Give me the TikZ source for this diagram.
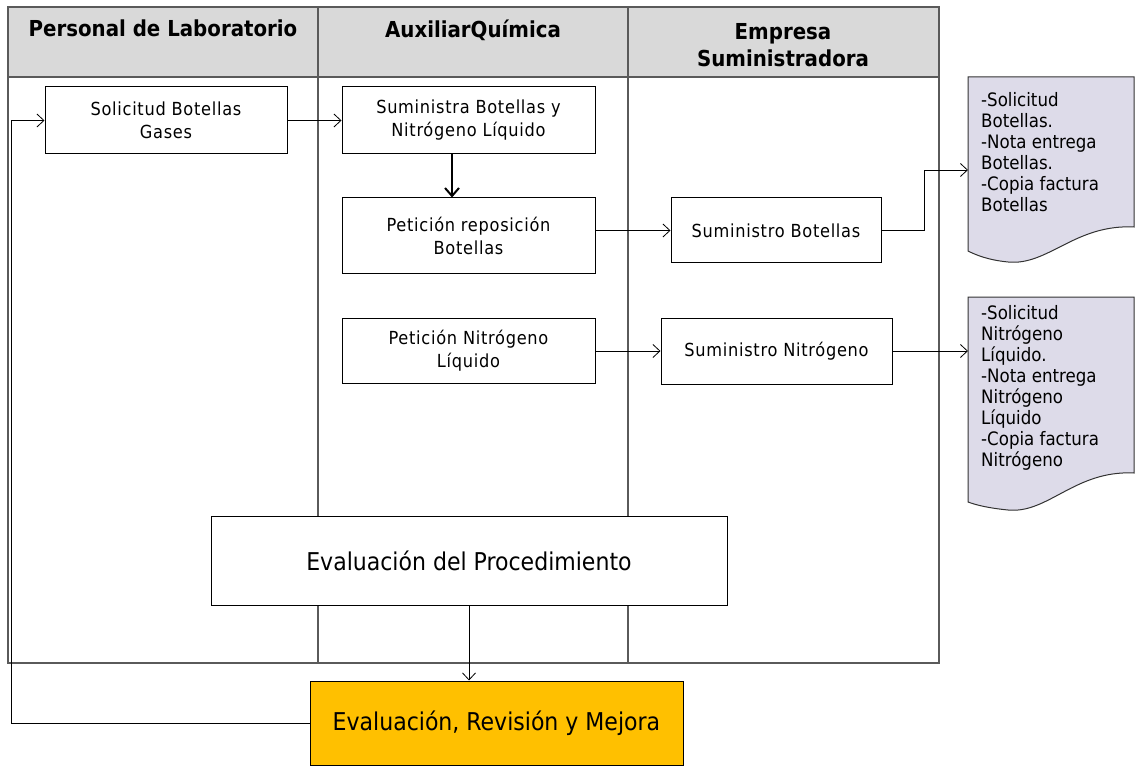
\documentclass[tikz,border=0pt]{standalone}
\usepackage{fontspec}
\setmainfont{DejaVu Sans Condensed}
\newfontfamily\boxfont[LetterSpace=4]{DejaVu Sans Condensed}
\newfontfamily\docfont{DejaVu Sans Condensed}
\usetikzlibrary{arrows.meta}
\definecolor{lanegray}{HTML}{5A5A5A}
\definecolor{hdrgray}{HTML}{D9D9D9}
\definecolor{docfill}{HTML}{DDDBE9}
\definecolor{gold}{HTML}{FFC000}
\begin{document}
\begin{tikzpicture}[x=1pt,y=-1pt,
  lane/.style={draw=lanegray, line width=1.4pt},
  proc/.style={draw=black, line width=1pt, fill=white, align=center, inner sep=0pt,
    font=\boxfont\fontsize{18}{23}\selectfont},
  bigproc/.style={draw=black, line width=1pt, align=center, inner sep=0pt,
    font=\fontsize{24.5}{28}\selectfont},
  hdr/.style={align=center, inner sep=0pt, font=\bfseries\fontsize{22}{27}\selectfont, anchor=north},
  docshape/.style={draw=black!80, line width=1pt, fill=docfill},
  doctext/.style={align=left, anchor=north west, inner sep=0pt,
    font=\docfont\fontsize{18.5}{21}\selectfont},
  arr/.style={-{Straight Barb[length=7pt,width=13pt]}, line width=0.8pt},
  boldarr/.style={-{Straight Barb[length=8pt,width=14pt,line width=2pt]}, line width=2pt}
]
\useasboundingbox (0,0) rectangle (1140,767);
% swimlane table
\fill[hdrgray] (8,7) rectangle (939,77);
\draw[lane] (8,7) rectangle (939,663);
\draw[lane] (8,77) -- (939,77);
\draw[lane] (318,7) -- (318,663);
\draw[lane] (628,7) -- (628,663);
\node[hdr] (h1) at (163,20) {Personal de Laboratorio};
\node[hdr] (h2) at (473,20) {AuxiliarQuímica};
\node[hdr] (h3) at (783,23) {Empresa\\Suministradora};
% process boxes
\node[proc, minimum width=242pt, minimum height=67pt] (sol) at (166,120.5) {Solicitud Botellas\\Gases};
\node[proc, minimum width=253pt, minimum height=67pt] (sum) at (468.5,120.5) {Suministra Botellas  y\\Nitrógeno Líquido};
\node[proc, minimum width=253pt, minimum height=76pt] (pet) at (468.5,236) {Petición reposición\\Botellas};
\node[proc, minimum width=210pt, minimum height=65pt] (sb) at (776,230.5) {Suministro Botellas};
\node[proc, minimum width=253pt, minimum height=65pt] (pn) at (468.5,350.5) {Petición Nitrógeno\\Líquido};
\node[proc, minimum width=231pt, minimum height=66pt] (sn) at (776.5,351) {Suministro Nitrógeno};
\node[bigproc, fill=white, minimum width=516pt, minimum height=89pt] (ev) at (469,560.5) {Evaluación del Procedimiento};
\node[bigproc, fill=gold, minimum width=373pt, minimum height=84pt] (ev2) at (496.5,723) {Evaluación, Revisión y Mejora};
% documents
\draw[docshape] (968,77) -- (1134,77) -- (1134,227)
  .. controls (1075,224) and (1048,266) .. (1008,262)
  .. controls (988,260) and (976,255) .. (968,251) -- cycle;
\draw[docshape] (968,297) -- (1134,297) -- (1134,473)
  .. controls (1075,470) and (1048,514) .. (1008,510)
  .. controls (988,508) and (976,505) .. (968,502) -- cycle;
\node[doctext] (d1) at (981,92) {-Solicitud\\Botellas.\\-Nota entrega\\Botellas.\\-Copia factura\\Botellas};
\node[doctext] (d2) at (981,305) {-Solicitud\\Nitrógeno\\Líquido.\\-Nota entrega\\Nitrógeno\\Líquido\\-Copia factura\\Nitrógeno};
\coordinate (d1in) at (968,170);
\coordinate (d2in) at (968,351);
\coordinate (fb) at (11,723);
% connectors
\draw[arr] (sol.east) -- (sum.west);
\draw[boldarr] ([xshift=-16.5pt]sum.south) -- ([xshift=-16.5pt]pet.north);
\draw[arr] (sb.west -| pet.east) -- (sb.west);
\draw[arr] (sn.west -| pn.east) -- (sn.west);
\draw[arr] (sb.east) -- ++(43,0) |- (d1in);
\draw[arr] (sn.east) -- (d2in);
\draw[arr] (ev.south) -- (ev.south |- ev2.north);
\draw[arr] (ev2.west) -- (fb) |- (sol.west);
\end{tikzpicture}
\end{document}
